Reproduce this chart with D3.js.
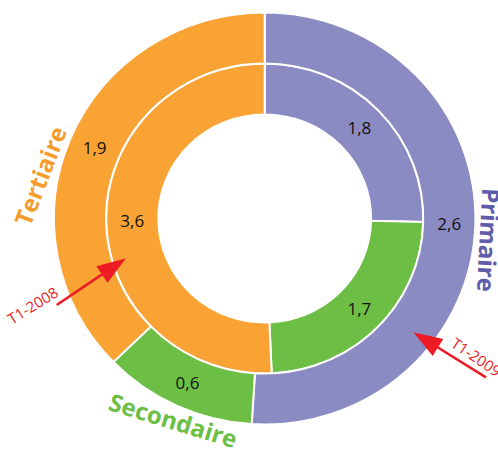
<!DOCTYPE html>
<html>
<head>
<meta charset="utf-8">
<script src="https://cdn.jsdelivr.net/npm/d3@7"></script>
<style>
  html, body { margin: 0; padding: 0; background: #fff; }
  svg { display: block; }
  text { font-family: "Open Sans", "DejaVu Sans", sans-serif; }
</style>
</head>
<body>
<svg id="chart" width="498" height="452"></svg>
<script>
// ---- data ----
const categories = ["Primaire", "Secondaire", "Tertiaire"];
const values2008 = [1.8, 1.7, 3.6];   // inner ring (T1-2008)
const values2009 = [2.6, 0.6, 1.9];   // outer ring (T1-2009)
const ringNames = ["T1-2008", "T1-2009"];

// ---- styles / layout ----
const fillColors = ["#8B8BC3", "#6DBE45", "#F8A334"];
const labelColors = ["#5F5CA9", "#6DBE45", "#F59C2C"];
const arrowColor = "#ED1C24";
const cx = 264.7, cy = 218.5, sx = 1.023;
const ringRadii = [[104, 155], [155, 206]];

// category label placement (x, y, rotation)
const catLabelPos = [
  { x: 488, y: 240, r: 93 },
  { x: 173, y: 421, r: 17 },
  { x: 41,  y: 176, r: -69 }
];
// annotation arrows: tail, tip, text baseline start, text rotation
const arrowPos = [
  { tail: [56.7, 305], tip: [126, 258.3], text: [12, 325], rot: -32 },
  { tail: [486, 377.3], tip: [413.3, 332.3], text: [450, 346], rot: 34 }
];

const svg = d3.select("#chart");
const fmt = d3.formatLocale({ decimal: ",", thousands: " ", grouping: [3], currency: ["", "€"] }).format(".1f");

const pie = d3.pie().sort(null).value(d => d.value).startAngle(0).endAngle(2 * Math.PI);
const color = d3.scaleOrdinal().domain(categories).range(fillColors);
const labelColor = d3.scaleOrdinal().domain(categories).range(labelColors);

const ringsData = [values2008, values2009];

const pieG = svg.append("g").attr("transform", `translate(${cx},${cy}) scale(${sx},1)`);
const labelG = svg.append("g");

ringsData.forEach((vals, i) => {
  const data = categories.map((c, k) => ({ cat: c, value: vals[k] }));
  const arcs = pie(data);
  const arc = d3.arc().innerRadius(ringRadii[i][0]).outerRadius(ringRadii[i][1]);
  pieG.append("g").selectAll("path")
    .data(arcs)
    .join("path")
    .attr("d", arc)
    .attr("fill", d => color(d.data.cat))
    .attr("stroke", "#fff")
    .attr("stroke-width", 2)
    .attr("vector-effect", "non-scaling-stroke");

  labelG.append("g").selectAll("text")
    .data(arcs)
    .join("text")
    .attr("x", d => cx + arc.centroid(d)[0] * sx)
    .attr("y", d => cy + arc.centroid(d)[1])
    .attr("dy", "0.36em")
    .attr("text-anchor", "middle")
    .attr("font-size", 17)
    .attr("fill", "#111")
    .text(d => fmt(d.data.value));
});

// category labels
svg.append("g").selectAll("text")
  .data(categories)
  .join("text")
  .attr("transform", (d, i) => `translate(${catLabelPos[i].x},${catLabelPos[i].y}) rotate(${catLabelPos[i].r})`)
  .attr("text-anchor", "middle")
  .attr("dy", "0.35em")
  .attr("font-size", 24)
  .attr("font-weight", 700)
  .attr("fill", d => labelColor(d))
  .text(d => d);

// arrows
const arrG = svg.append("g");
ringNames.forEach((name, i) => {
  const a = arrowPos[i];
  const dx = a.tip[0] - a.tail[0], dy = a.tip[1] - a.tail[1];
  const len = Math.hypot(dx, dy), ux = dx / len, uy = dy / len;
  const headLen = 29, headHalf = 10;
  const bx = a.tip[0] - ux * headLen, by = a.tip[1] - uy * headLen;
  arrG.append("path")
    .attr("d", d3.line()([a.tail, [bx + ux * 2, by + uy * 2]]))
    .attr("stroke", arrowColor)
    .attr("stroke-width", 2.6)
    .attr("fill", "none");
  arrG.append("path")
    .attr("d", d3.line()([a.tip, [bx - uy * headHalf, by + ux * headHalf], [bx + uy * headHalf, by - ux * headHalf]]) + "Z")
    .attr("fill", arrowColor);
  arrG.append("text")
    .attr("transform", `translate(${a.text[0]},${a.text[1]}) rotate(${a.rot})`)
    .attr("font-size", 15)
    .attr("fill", arrowColor)
    .text(name);
});
</script>
</body>
</html>
